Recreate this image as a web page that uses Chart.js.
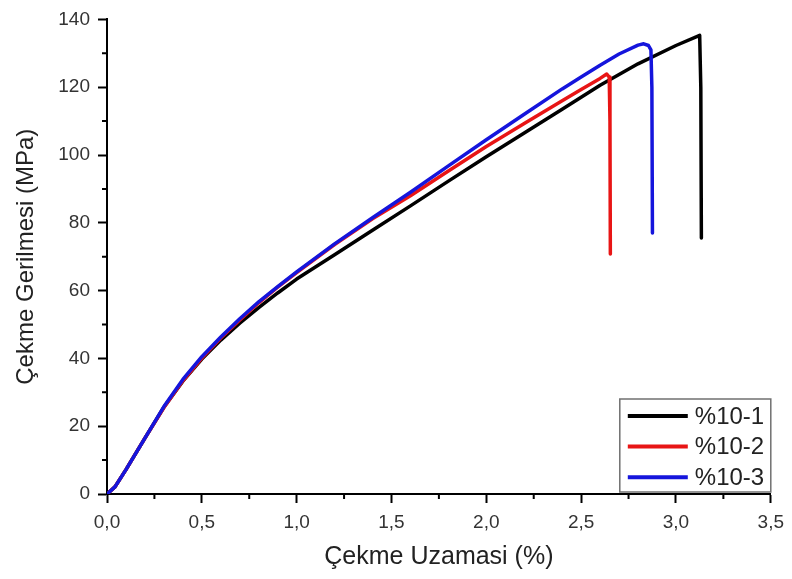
<!DOCTYPE html>
<html>
<head>
<meta charset="utf-8">
<script src="https://cdn.jsdelivr.net/npm/chart.js@4"></script>
<style>
html,body{margin:0;padding:0;background:#fff;}
#c{display:block;}
</style>
</head>
<body>
<canvas id="c" width="792" height="579"></canvas>
<script>
// Series labels
const seriesLabels = ['%10-1', '%10-2', '%10-3'];

// %10-1 (black)
const strain1 = [0, 0.042, 0.1, 0.2, 0.3, 0.4, 0.5, 0.6, 0.7, 0.8, 0.9, 1.0, 1.2, 1.4, 1.6, 1.8, 2.0, 2.2, 2.4, 2.6, 2.8, 3.0, 3.125, 3.131, 3.134];
const stress1 = [0, 2.1, 7.2, 16.5, 25.6, 33.3, 39.8, 45.4, 50.4, 55.0, 59.3, 63.4, 70.6, 77.8, 85.0, 92.3, 99.5, 106.5, 113.5, 120.6, 126.9, 132.3, 135.3, 120, 75.5];

// %10-2 (red)
const strain2 = [0, 0.042, 0.1, 0.2, 0.3, 0.4, 0.5, 0.6, 0.7, 0.8, 0.9, 1.0, 1.2, 1.4, 1.6, 1.8, 2.0, 2.2, 2.4, 2.5, 2.6, 2.635, 2.648, 2.652, 2.654];
const stress2 = [0, 2.1, 7.2, 16.5, 25.5, 33.4, 40.1, 46.0, 51.3, 56.4, 61.0, 65.3, 73.6, 81.2, 88.0, 95.3, 102.5, 109.3, 116.0, 119.3, 122.6, 123.9, 123.0, 110, 70.8];

// %10-3 (blue)
const strain3 = [0, 0.042, 0.1, 0.2, 0.3, 0.4, 0.5, 0.6, 0.7, 0.8, 0.9, 1.0, 1.2, 1.4, 1.6, 1.8, 2.0, 2.2, 2.4, 2.5, 2.6, 2.7, 2.8, 2.83, 2.855, 2.868, 2.873, 2.876];
const stress3 = [0, 2.1, 7.2, 16.5, 25.8, 33.8, 40.5, 46.3, 51.7, 56.7, 61.2, 65.5, 73.8, 81.5, 89.0, 96.8, 104.5, 112.0, 119.5, 123.0, 126.5, 129.8, 132.4, 132.8, 132.3, 131.0, 120, 77];

// Axis tick values
const xTicks = [0, 0.5, 1.0, 1.5, 2.0, 2.5, 3.0, 3.5];
const yTicks = [0, 20, 40, 60, 80, 100, 120, 140];

const colors = ['#000000', '#e81515', '#1515dc'];
const FONT = 'Arial, "Liberation Sans", sans-serif';

function pts(xs, ys){ return xs.map((x,i)=>({x:x, y:ys[i]})); }

const minorTicks = {
  id: 'minorTicks',
  afterDraw(chart){
    const ctx = chart.ctx, xs = chart.scales.x, ys = chart.scales.y;
    const ca = chart.chartArea;
    ctx.save();
    ctx.strokeStyle = '#000';
    ctx.lineWidth = 2;
    ctx.beginPath();
    for (let i = 0; i < xTicks.length - 1; i++) {
      const px = xs.getPixelForValue((xTicks[i] + xTicks[i+1]) / 2);
      ctx.moveTo(px, ca.bottom); ctx.lineTo(px, ca.bottom + 5);
    }
    for (let i = 0; i < yTicks.length - 1; i++) {
      const py = ys.getPixelForValue((yTicks[i] + yTicks[i+1]) / 2);
      ctx.moveTo(ca.left, py); ctx.lineTo(ca.left - 5, py);
    }
    ctx.stroke();
    ctx.restore();
  }
};

const boxLegend = {
  id: 'boxLegend',
  afterDraw(chart){
    const ctx = chart.ctx, ca = chart.chartArea;
    const w = 151, h = 93;
    const bx = ca.right - w, by = ca.bottom - 2 - h;
    ctx.save();
    ctx.fillStyle = '#fff';
    ctx.fillRect(bx, by, w, h);
    ctx.strokeStyle = '#707070';
    ctx.lineWidth = 1.5;
    ctx.strokeRect(bx, by, w, h);
    ctx.font = '24px ' + FONT;
    ctx.textBaseline = 'middle';
    ctx.textAlign = 'left';
    chart.data.datasets.forEach((ds, i) => {
      const yy = by + 17 + i * 30.6;
      ctx.strokeStyle = ds.borderColor;
      ctx.lineWidth = 4;
      ctx.beginPath();
      ctx.moveTo(bx + 8, yy); ctx.lineTo(bx + 68, yy);
      ctx.stroke();
      ctx.fillStyle = '#222';
      ctx.fillText(ds.label, bx + 75, yy + 1);
    });
    ctx.restore();
  }
};

new Chart(document.getElementById('c'), {
  type: 'scatter',
  data: {
    datasets: [
      {label: seriesLabels[0], data: pts(strain1, stress1), borderColor: colors[0], order: 2},
      {label: seriesLabels[1], data: pts(strain2, stress2), borderColor: colors[1], order: 1},
      {label: seriesLabels[2], data: pts(strain3, stress3), borderColor: colors[2], order: 0}
    ].map(d => Object.assign(d, {showLine: true, pointRadius: 0, borderWidth: 3.5, tension: 0, backgroundColor: d.borderColor, borderJoinStyle: 'round', borderCapStyle: 'round'}))
  },
  options: {
    responsive: false,
    animation: false,
    layout: {padding: {top: 15, right: 19, left: 0, bottom: 0}},
    plugins: {legend: {display: false}, tooltip: {enabled: false}},
    scales: {
      x: {
        type: 'linear', min: 0, max: 3.5,
        afterBuildTicks: s => { s.ticks = xTicks.map(v => ({value: v})); },
        afterFit: s => { s.height = 85; },
        ticks: {
          callback: v => Number(v).toFixed(1).replace('.', ','),
          font: {size: 19, family: FONT}, color: '#333', padding: 8, maxRotation: 0
        },
        grid: {drawOnChartArea: false, drawTicks: true, tickLength: 9, tickColor: '#000', tickWidth: 2},
        border: {display: true, color: '#000', width: 2},
        title: {display: true, text: 'Çekme Uzamasi (%)', font: {size: 25, family: FONT}, color: '#222', padding: {top: 0, bottom: 7}}
      },
      y: {
        type: 'linear', min: 0, max: 140,
        afterBuildTicks: s => { s.ticks = yTicks.map(v => ({value: v})); },
        afterFit: s => { s.width = 107; },
        ticks: {
          callback: v => String(v),
          font: {size: 19, family: FONT}, color: '#333', padding: 8
        },
        grid: {drawOnChartArea: false, drawTicks: true, tickLength: 9, tickColor: '#000', tickWidth: 2},
        border: {display: true, color: '#000', width: 2},
        title: {display: true, text: 'Çekme Gerilmesi (MPa)', font: {size: 24, family: FONT}, color: '#222', padding: {top: 12, bottom: 0}}
      }
    }
  },
  plugins: [minorTicks, boxLegend]
});
</script>
</body>
</html>
